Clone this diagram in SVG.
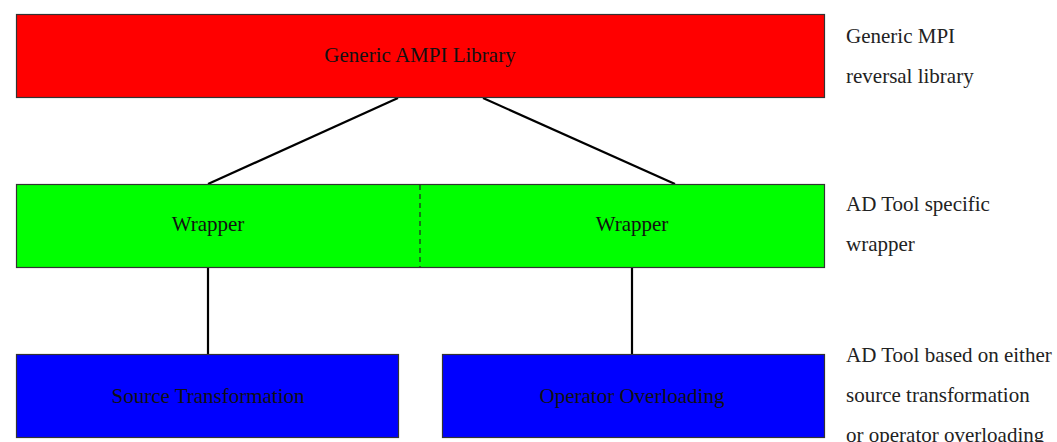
<svg xmlns="http://www.w3.org/2000/svg" width="1057" height="442" viewBox="0 0 1057 442">
<style>
.box{stroke:#333;stroke-width:1.2}
.t{font-family:"Liberation Serif","Times New Roman",serif;font-size:21px;fill:#111;text-anchor:middle}
.lbl{font-family:"Liberation Serif","Times New Roman",serif;font-size:21px;fill:#222}
.c{stroke:#000;stroke-width:2.2;fill:none}
</style>
<rect width="1057" height="442" fill="#fff"/>
<g id="connectors">
<line class="c" x1="398" y1="98" x2="208" y2="184"/>
<line class="c" x1="483" y1="98" x2="675" y2="184"/>
<line class="c" x1="208" y1="268" x2="208" y2="354"/>
<line class="c" x1="632" y1="268" x2="632" y2="354"/>
</g>
<g id="ampi">
<rect class="box" x="16.5" y="14.5" width="808" height="83" fill="#ff0000"/>
<text class="t" x="420" y="62">Generic AMPI Library</text>
</g>
<g id="wrappers">
<rect class="box" x="16.5" y="184.5" width="808" height="83" fill="#00ff00"/>
<line x1="420" y1="185" x2="420" y2="267" stroke="#222" stroke-width="1.2" stroke-dasharray="5,4"/>
</g>
<g id="wrapper-left">
<text class="t" x="208" y="231">Wrapper</text>
</g>
<g id="wrapper-right">
<text class="t" x="632" y="231">Wrapper</text>
</g>
<g id="source-transformation">
<rect class="box" x="16.5" y="354.5" width="382" height="83" fill="#0000ff"/>
<text class="t" x="208" y="403">Source Transformation</text>
</g>
<g id="operator-overloading">
<rect class="box" x="442.5" y="354.5" width="382" height="83" fill="#0000ff"/>
<text class="t" x="632" y="403">Operator Overloading</text>
</g>
<g id="labels">
<text class="lbl" x="846" y="43">Generic MPI</text>
<text class="lbl" x="846" y="83">reversal library</text>
<text class="lbl" x="846" y="211">AD Tool specific</text>
<text class="lbl" x="846" y="251">wrapper</text>
<text class="lbl" x="846" y="362">AD Tool based on either</text>
<text class="lbl" x="846" y="402">source transformation</text>
<text class="lbl" x="846" y="442">or operator overloading</text>
</g>
</svg>
